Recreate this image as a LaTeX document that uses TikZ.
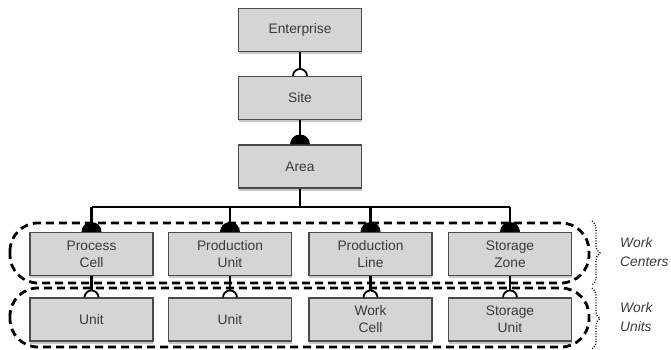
\documentclass[tikz,border=0pt]{standalone}
\usepackage{fontspec}
\setmainfont{Liberation Sans}
\usetikzlibrary{shadows,decorations.pathreplacing,calc}
\definecolor{boxfill}{HTML}{D5D5D5}
\definecolor{boxline}{HTML}{4A4A4A}
\definecolor{txt}{HTML}{3A3A3A}
\newcommand\filledcap[2]{\fill[black] ([xshift=-#2]#1) arc[start angle=180,end angle=0,radius=#2] -- cycle;}
\newcommand\opencap[2]{\draw[black,line width=1.8pt] ([xshift=-#2]#1) arc[start angle=180,end angle=0,radius=#2];}
\begin{document}
\begin{tikzpicture}[x=1pt,y=-1pt,
  box/.style={draw=boxline, line width=1.1pt, fill=boxfill, minimum width=123pt, minimum height=43pt,
    inner sep=0pt, align=center, font=\fontsize{13.8}{17}\selectfont, text=txt,
    drop shadow={shadow xshift=0pt, shadow yshift=-2.5pt, opacity=0.22, fill=black}},
  link/.style={line width=2.1pt, black},
  grp/.style={line width=2.8pt, dash pattern=on 8pt off 5pt, rounded corners=28pt, black},
  brc/.style={line width=1.3pt, dash pattern=on 1pt off 1.6pt, black, decorate, decoration={brace, amplitude=8pt}},
  lbl/.style={anchor=west, align=left, inner sep=0pt, text=txt, font=\fontsize{13.8}{19}\selectfont\itshape}]
\useasboundingbox (0,0) rectangle (671,349);
% groups
\draw[grp] (10,223) rectangle (589,283);
\draw[grp] (10,288) rectangle (589,347);
% nodes
\node[box] (ent) at (300,30) {Enterprise};
\node[box] (site) at (300,98) {Site};
\node[box] (area) at (300,166.5) {Area};
\node[box] (pc) at (91.5,254) {Process\\Cell};
\node[box] (pu) at (230,254) {Production\\Unit};
\node[box] (pl) at (370.5,254) {Production\\Line};
\node[box] (sz) at (510,254) {Storage\\Zone};
\node[box] (u1) at (91.5,319.5) {Unit};
\node[box] (u2) at (230,319.5) {Unit};
\node[box] (wcell) at (370.5,319.5) {Work\\Cell};
\node[box] (su) at (510,319.5) {Storage\\Unit};
% links
\draw[link] (ent.south) -- ([yshift=7pt]site.north);
\opencap{site.north}{7pt}
\draw[link] (site.south) -- (area.north);
\filledcap{area.north}{10pt}
\coordinate (bus) at (300,207);
\draw[link] (area.south) -- (bus);
\draw[link] (pc.north |- bus) -- (sz.north |- bus);
\foreach \n in {pc,pu,pl,sz}{
  \draw[link] (\n.north |- bus) -- (\n.north);
  \filledcap{\n.north}{10pt}
}
\foreach \a/\b in {pc/u1,pu/u2,pl/wcell,sz/su}{
  \draw[link] (\a.south) -- ([yshift=7pt]\b.north);
  \opencap{\b.north}{7pt}
}
% braces
\draw[brc] (592,221) -- (592,285);
\draw[brc] (592,288) -- (592,349);
\node[lbl] (wcl) at (620,252.5) {Work\\Centers};
\node[lbl] (wul) at (620,317.5) {Work\\Units};
\end{tikzpicture}
\end{document}
